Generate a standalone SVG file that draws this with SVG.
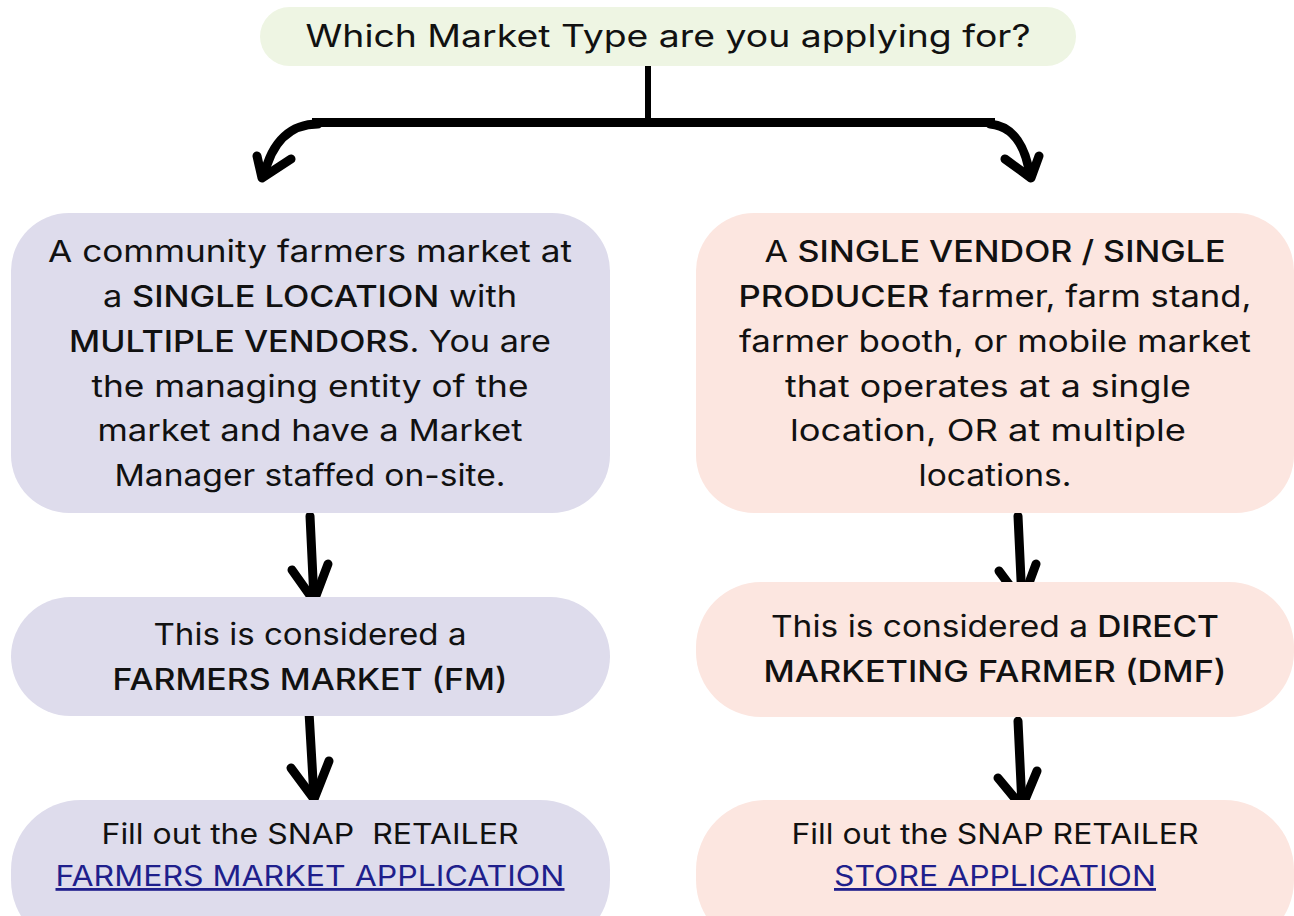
<svg xmlns="http://www.w3.org/2000/svg" width="1294" height="916" viewBox="0 0 1294 916">
<style>
.t{font-family:Inter,"Noto Sans",sans-serif;font-size:30px;fill:#111;text-anchor:middle}
.s{font-size:28px}
.b{font-weight:500}
.lav{fill:#dedcec}
.pch{fill:#fce6e0}
.lnk{fill:#1f1f8c;text-decoration:underline}
.ar{fill:none;stroke:#000;stroke-width:9;stroke-linecap:round;stroke-linejoin:round}
</style>
<rect width="1294" height="916" fill="#fff"/>
<g id="connectors">
<line x1="648" y1="66" x2="648" y2="122" stroke="#000" stroke-width="6"/>
<rect x="312" y="118" width="683" height="9" fill="#000"/>
<path class="ar" d="M318,124 C292,124 272,140 264,176"/>
<path class="ar" d="M257,156 L262,178 L291,159"/>
<path class="ar" d="M990,124 C1014,126 1026,148 1030,176"/>
<path class="ar" d="M1039,156 L1031,178 L1005,159"/>
<path class="ar" d="M310,516 L314,600"/>
<path class="ar" d="M292,570 L314,601 L328,564"/>
<path class="ar" d="M309,712 L314,798"/>
<path class="ar" d="M291,768 L314,799 L329,761"/>
<path class="ar" d="M1018,516 L1022,601"/>
<path class="ar" d="M999,571 L1022,602 L1036,564"/>
<path class="ar" d="M1018,721 L1022,806"/>
<path class="ar" d="M998,778 L1022,807 L1037,771"/>
</g>
<g id="title">
<rect x="260" y="7" width="816" height="59" rx="29.5" fill="#eef5e3"/>
<text class="t" x="668" y="47" textLength="725" lengthAdjust="spacingAndGlyphs" style="font-size:31px">Which Market Type are you applying for?</text>
</g>
<g id="fm-desc">
<rect class="lav" x="11" y="213" width="599" height="300" rx="58"/>
<text class="t" x="310" y="262" textLength="524" lengthAdjust="spacingAndGlyphs">A community farmers market at</text>
<text class="t" x="310" y="307" textLength="414" lengthAdjust="spacingAndGlyphs">a <tspan class="b">SINGLE LOCATION</tspan> with</text>
<text class="t" x="310" y="352" textLength="482" lengthAdjust="spacingAndGlyphs"><tspan class="b">MULTIPLE VENDORS</tspan>. You are</text>
<text class="t" x="310" y="397" textLength="437" lengthAdjust="spacingAndGlyphs">the managing entity of the</text>
<text class="t" x="310" y="441" textLength="425" lengthAdjust="spacingAndGlyphs">market and have a Market</text>
<text class="t" x="310" y="486" textLength="391" lengthAdjust="spacingAndGlyphs">Manager staffed on-site.</text>
</g>
<g id="dmf-desc">
<rect class="pch" x="696" y="213" width="598" height="300" rx="58"/>
<text class="t" x="995" y="262" textLength="461" lengthAdjust="spacingAndGlyphs">A <tspan class="b">SINGLE VENDOR / SINGLE</tspan></text>
<text class="t" x="995" y="307" textLength="513" lengthAdjust="spacingAndGlyphs"><tspan class="b">PRODUCER</tspan> farmer, farm stand,</text>
<text class="t" x="995" y="352" textLength="512" lengthAdjust="spacingAndGlyphs">farmer booth, or mobile market</text>
<text class="t" x="988" y="397" textLength="406" lengthAdjust="spacingAndGlyphs">that operates at a single</text>
<text class="t" x="988" y="441" textLength="396" lengthAdjust="spacingAndGlyphs">location, OR at multiple</text>
<text class="t" x="995" y="486" textLength="153" lengthAdjust="spacingAndGlyphs">locations.</text>
</g>
<g id="fm-type">
<rect class="lav" x="11" y="597" width="599" height="119" rx="59.5"/>
<text class="t" x="310" y="645" textLength="313" lengthAdjust="spacingAndGlyphs">This is considered a</text>
<text class="t b" x="310" y="690" textLength="395" lengthAdjust="spacingAndGlyphs">FARMERS MARKET (FM)</text>
</g>
<g id="dmf-type">
<rect class="pch" x="696" y="582" width="598" height="135" rx="65"/>
<text class="t" x="995" y="637" textLength="448" lengthAdjust="spacingAndGlyphs">This is considered a <tspan class="b">DIRECT</tspan></text>
<text class="t b" x="995" y="682" textLength="463" lengthAdjust="spacingAndGlyphs">MARKETING FARMER (DMF)</text>
</g>
<g id="fm-app">
<rect class="lav" x="11" y="800" width="599" height="150" rx="70"/>
<text class="t s" x="310" y="844" textLength="417" lengthAdjust="spacingAndGlyphs">Fill out the SNAP&#160; RETAILER</text>
<text class="t s lnk" x="310" y="886" textLength="509" lengthAdjust="spacingAndGlyphs">FARMERS MARKET APPLICATION</text>
</g>
<g id="dmf-app">
<rect class="pch" x="696" y="800" width="598" height="150" rx="70"/>
<text class="t s" x="995" y="844" textLength="407" lengthAdjust="spacingAndGlyphs">Fill out the SNAP RETAILER</text>
<text class="t s lnk" x="995" y="886" textLength="322" lengthAdjust="spacingAndGlyphs">STORE APPLICATION</text>
</g>
</svg>
